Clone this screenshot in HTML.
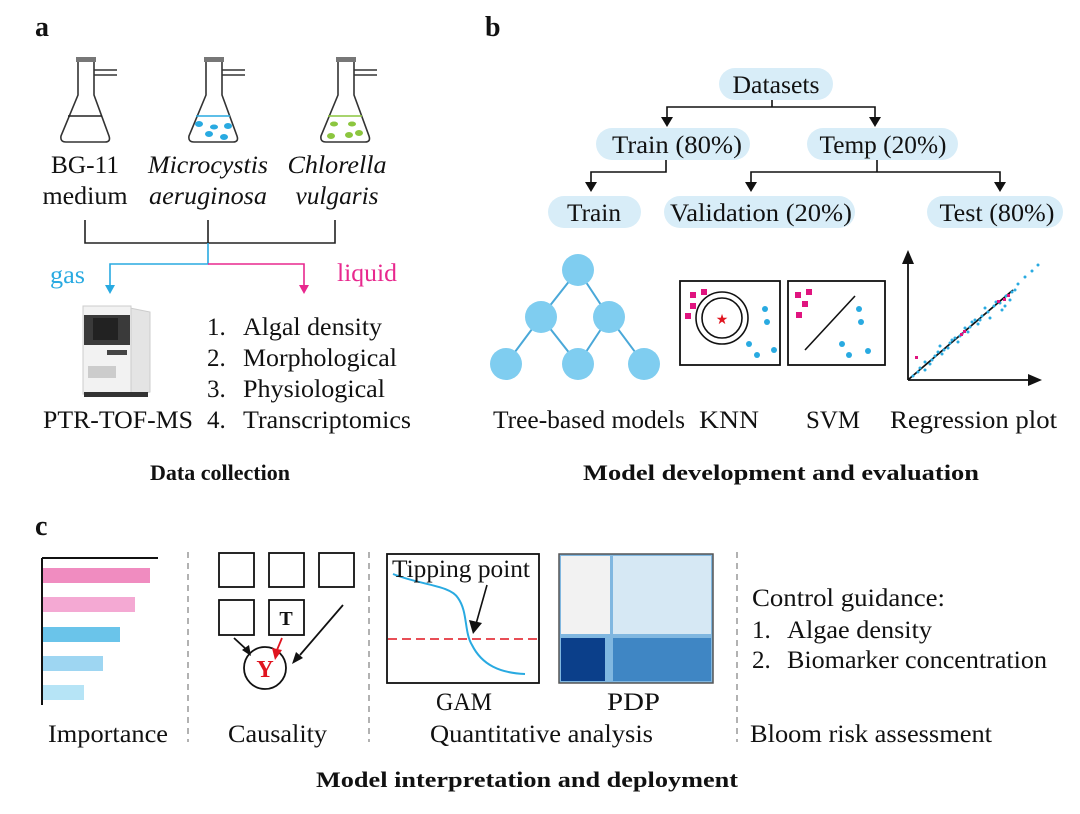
<!DOCTYPE html>
<html><head><meta charset="utf-8"><style>
html,body{margin:0;padding:0;background:#fff}
svg{display:block}
text{font-family:"Liberation Serif",serif;fill:#111}
</style></head><body>
<svg width="1080" height="814" viewBox="0 0 1080 814" xmlns="http://www.w3.org/2000/svg">
<g font-size="25">
<!-- panel a -->
<text x="35" y="36" font-size="28" font-weight="bold">a</text>
<g fill="none" stroke="#333" stroke-width="1.6">
 <path d="M78,62 V95 L61,136 Q60,142 66,142 H105 Q111,142 109,136 L94,95 V62"/>
 <path d="M94,70 H117 M94,75 H117"/>
 <path d="M206,62 V95 L189,136 Q188,142 194,142 H233 Q239,142 237,136 L222,95 V62"/>
 <path d="M222,70 H245 M222,75 H245"/>
 <path d="M338,62 V95 L321,136 Q320,142 326,142 H365 Q371,142 369,136 L354,95 V62"/>
 <path d="M354,70 H377 M354,75 H377"/>
</g>
<rect x="76" y="57" width="20" height="5" fill="#777"/><rect x="204" y="57" width="20" height="5" fill="#777"/><rect x="336" y="57" width="20" height="5" fill="#777"/>
<line x1="68" y1="116" x2="102" y2="116" stroke="#222" stroke-width="1.6"/>
<line x1="196" y1="116" x2="230" y2="116" stroke="#29aae1" stroke-width="1.6"/>
<line x1="328" y1="116" x2="362" y2="116" stroke="#8cc63f" stroke-width="1.6"/>
<g fill="#29aae1"><ellipse cx="199" cy="124" rx="4" ry="3"/><ellipse cx="214" cy="127" rx="4" ry="2.5"/><ellipse cx="228" cy="126" rx="4" ry="3"/><ellipse cx="209" cy="134" rx="4" ry="3"/><ellipse cx="224" cy="137" rx="4" ry="3"/></g>
<g fill="#8cc63f"><ellipse cx="334" cy="124" rx="4" ry="2.5"/><ellipse cx="352" cy="124" rx="4" ry="2.5"/><ellipse cx="331" cy="136" rx="4" ry="3"/><ellipse cx="349" cy="135" rx="4" ry="3"/><ellipse cx="359" cy="133" rx="4" ry="3"/></g>
<g text-anchor="middle">
<text x="85" y="173" textLength="68" lengthAdjust="spacingAndGlyphs">BG-11</text>
<text x="85" y="204" textLength="85" lengthAdjust="spacingAndGlyphs">medium</text>
<text x="208" y="173" font-style="italic" textLength="120" lengthAdjust="spacingAndGlyphs">Microcystis</text>
<text x="208" y="204" font-style="italic" textLength="118" lengthAdjust="spacingAndGlyphs">aeruginosa</text>
<text x="337" y="173" font-style="italic" textLength="99" lengthAdjust="spacingAndGlyphs">Chlorella</text>
<text x="337" y="204" font-style="italic" textLength="83" lengthAdjust="spacingAndGlyphs">vulgaris</text>
</g>
<path d="M85,220 V243 H335 V220 M208,220 V243" fill="none" stroke="#222" stroke-width="1.6"/>
<path d="M208,243 V264 H110 V287" fill="none" stroke="#29aae1" stroke-width="1.6"/>
<path d="M105,285 L110,294 L115,285 Z" fill="#29aae1"/>
<path d="M208,264 H304 V287" fill="none" stroke="#e8288e" stroke-width="1.6"/>
<path d="M299,285 L304,294 L309,285 Z" fill="#e8288e"/>
<text x="50" y="283" style="fill:#29aae1" textLength="35" lengthAdjust="spacingAndGlyphs">gas</text>
<text x="337" y="281" style="fill:#e8288e" textLength="60" lengthAdjust="spacingAndGlyphs">liquid</text>
<!-- instrument -->
<path d="M130,308 L150,312 V392 L130,396 Z" fill="#e4e4e4" stroke="#ccc"/>
<rect x="83" y="306" width="48" height="88" fill="#f2f2f2" stroke="#ccc"/>
<rect x="84" y="315" width="46" height="30" fill="#3a3a3a"/>
<rect x="93" y="318" width="25" height="22" fill="#222"/>
<rect x="107" y="350" width="20" height="5" fill="#444"/>
<rect x="88" y="366" width="28" height="12" fill="#ccc"/>
<rect x="84" y="392" width="64" height="5" fill="#333"/>
<text x="43" y="428" textLength="150" lengthAdjust="spacingAndGlyphs">PTR-TOF-MS</text>
<text x="207" y="335">1.</text><text x="243" y="335" textLength="139" lengthAdjust="spacingAndGlyphs">Algal density</text>
<text x="207" y="366">2.</text><text x="243" y="366" textLength="154" lengthAdjust="spacingAndGlyphs">Morphological</text>
<text x="207" y="397">3.</text><text x="243" y="397" textLength="142" lengthAdjust="spacingAndGlyphs">Physiological</text>
<text x="207" y="428">4.</text><text x="243" y="428" textLength="168" lengthAdjust="spacingAndGlyphs">Transcriptomics</text>
<text x="220" y="480" text-anchor="middle" font-size="22" font-weight="bold" textLength="140" lengthAdjust="spacingAndGlyphs">Data collection</text>

<!-- panel b -->
<text x="485" y="36" font-size="28" font-weight="bold">b</text>
<g fill="#d8edf8">
<rect x="719" y="68" width="114" height="32" rx="16"/>
<rect x="596" y="128" width="154" height="32" rx="16"/>
<rect x="807" y="128" width="151" height="32" rx="16"/>
<rect x="548" y="196" width="93" height="32" rx="16"/>
<rect x="664" y="196" width="191" height="32" rx="16"/>
<rect x="927" y="196" width="136" height="32" rx="16"/>
</g>
<g text-anchor="middle">
<text x="776" y="93" textLength="87" lengthAdjust="spacingAndGlyphs">Datasets</text>
<text x="677" y="153" textLength="130" lengthAdjust="spacingAndGlyphs">Train (80%)</text>
<text x="883" y="153" textLength="127" lengthAdjust="spacingAndGlyphs">Temp (20%)</text>
<text x="594" y="221" textLength="54" lengthAdjust="spacingAndGlyphs">Train</text>
<text x="761" y="221" textLength="182" lengthAdjust="spacingAndGlyphs">Validation (20%)</text>
<text x="997" y="221" textLength="115" lengthAdjust="spacingAndGlyphs">Test (80%)</text>
</g>
<g fill="none" stroke="#111" stroke-width="1.6">
<path d="M772,100 V107 M667,119 V107 H875 V119"/>
<path d="M666,160 V172 H591 V184"/>
<path d="M877,160 V172 M751,184 V172 H1000 V184"/>
</g>
<g fill="#111">
<path d="M661,117 L667,127 L673,117 Z"/><path d="M869,117 L875,127 L881,117 Z"/>
<path d="M585,182 L591,192 L597,182 Z"/><path d="M745,182 L751,192 L757,182 Z"/><path d="M994,182 L1000,192 L1006,182 Z"/>
</g>
<!-- tree -->
<g stroke="#4aa8d8" stroke-width="2" fill="none"><path d="M578,270 L541,317 L506,364 M578,270 L609,317 L644,364 M541,317 L578,364 L609,317"/></g>
<g fill="#7fcdf0"><circle cx="578" cy="270" r="16"/><circle cx="541" cy="317" r="16"/><circle cx="609" cy="317" r="16"/><circle cx="506" cy="364" r="16"/><circle cx="578" cy="364" r="16"/><circle cx="644" cy="364" r="16"/></g>
<!-- KNN -->
<rect x="680" y="281" width="100" height="84" fill="none" stroke="#111" stroke-width="1.8"/>
<g fill="#e0147f"><rect x="690" y="292" width="6" height="6"/><rect x="701" y="289" width="6" height="6"/><rect x="690" y="303" width="6" height="6"/><rect x="685" y="313" width="6" height="6"/></g>
<circle cx="722" cy="318" r="26" fill="none" stroke="#111" stroke-width="1.6"/>
<circle cx="722" cy="318" r="20" fill="none" stroke="#111" stroke-width="1.6"/>
<text x="722" y="324" text-anchor="middle" font-size="14" style="fill:#e0141f">★</text>
<g fill="#29aae1"><circle cx="765" cy="309" r="3"/><circle cx="767" cy="322" r="3"/><circle cx="749" cy="344" r="3"/><circle cx="774" cy="350" r="3"/><circle cx="757" cy="355" r="3"/></g>
<!-- SVM -->
<rect x="788" y="281" width="97" height="84" fill="none" stroke="#111" stroke-width="1.8"/>
<g fill="#e0147f"><rect x="795" y="292" width="6" height="6"/><rect x="806" y="289" width="6" height="6"/><rect x="802" y="301" width="6" height="6"/><rect x="796" y="312" width="6" height="6"/></g>
<line x1="805" y1="350" x2="855" y2="296" stroke="#111" stroke-width="1.6"/>
<g fill="#29aae1"><circle cx="859" cy="309" r="3"/><circle cx="861" cy="322" r="3"/><circle cx="842" cy="344" r="3"/><circle cx="868" cy="351" r="3"/><circle cx="849" cy="355" r="3"/></g>
<!-- Regression -->
<g stroke="#111" stroke-width="1.8" fill="none"><path d="M908,380 V262 M908,380 H1030 M909,379 L1013,290"/></g>
<path d="M902,264 L908,250 L914,264 Z" fill="#111"/><path d="M1028,374 L1042,380 L1028,386 Z" fill="#111"/>
<g fill="#29aae1">
<circle cx="913" cy="376" r="1.5"/><circle cx="920" cy="368" r="1.5"/><circle cx="925" cy="362" r="1.5"/><circle cx="932" cy="360" r="1.5"/><circle cx="938" cy="352" r="1.5"/><circle cx="944" cy="350" r="1.5"/><circle cx="950" cy="343" r="1.5"/><circle cx="955" cy="338" r="1.5"/><circle cx="960" cy="336" r="1.5"/><circle cx="965" cy="328" r="1.5"/><circle cx="970" cy="327" r="1.5"/><circle cx="975" cy="320" r="1.5"/><circle cx="982" cy="316" r="1.5"/><circle cx="988" cy="312" r="1.5"/><circle cx="994" cy="306" r="1.5"/><circle cx="1000" cy="303" r="1.5"/><circle cx="1006" cy="296" r="1.5"/><circle cx="1012" cy="292" r="1.5"/><circle cx="1018" cy="284" r="1.5"/><circle cx="1025" cy="277" r="1.5"/><circle cx="1032" cy="271" r="1.5"/><circle cx="1038" cy="265" r="1.5"/>
<circle cx="925" cy="370" r="1.5"/><circle cx="935" cy="356" r="1.5"/><circle cx="948" cy="348" r="1.5"/><circle cx="958" cy="342" r="1.5"/><circle cx="968" cy="332" r="1.5"/><circle cx="978" cy="324" r="1.5"/><circle cx="990" cy="318" r="1.5"/><circle cx="1002" cy="310" r="1.5"/><circle cx="1010" cy="300" r="1.5"/><circle cx="940" cy="346" r="1.5"/><circle cx="962" cy="334" r="1.5"/><circle cx="985" cy="308" r="1.5"/>
<circle cx="918" cy="372" r="1.5"/><circle cx="930" cy="364" r="1.5"/><circle cx="942" cy="354" r="1.5"/><circle cx="952" cy="340" r="1.5"/><circle cx="972" cy="322" r="1.5"/><circle cx="980" cy="320" r="1.5"/><circle cx="996" cy="302" r="1.5"/><circle cx="1015" cy="290" r="1.5"/><circle cx="1005" cy="306" r="1.5"/>
</g>
<g fill="#e0147f"><rect x="915" y="356" width="3" height="3"/><rect x="960" y="333" width="3" height="3"/><rect x="963" y="330" width="3" height="3"/><rect x="997" y="300" width="3" height="3"/><rect x="1003" y="298" width="3" height="3"/><rect x="1007" y="294" width="3" height="3"/></g>
<text x="493" y="428" textLength="192" lengthAdjust="spacingAndGlyphs">Tree-based models</text>
<text x="699" y="428" textLength="60" lengthAdjust="spacingAndGlyphs">KNN</text>
<text x="806" y="428" textLength="54" lengthAdjust="spacingAndGlyphs">SVM</text>
<text x="890" y="428" textLength="167" lengthAdjust="spacingAndGlyphs">Regression plot</text>
<text x="781" y="480" text-anchor="middle" font-size="22" font-weight="bold" textLength="396" lengthAdjust="spacingAndGlyphs">Model development and evaluation</text>

<!-- panel c -->
<text x="35" y="535" font-size="28" font-weight="bold">c</text>
<path d="M42,558 V705 M42,558 H158" stroke="#111" stroke-width="2" fill="none"/>
<rect x="43" y="568" width="107" height="15" fill="#f08cc0"/>
<rect x="43" y="597" width="92" height="15" fill="#f4a9d3"/>
<rect x="43" y="627" width="77" height="15" fill="#6ac4ea"/>
<rect x="43" y="656" width="60" height="15" fill="#9ed6f2"/>
<rect x="43" y="685" width="41" height="15" fill="#b6e4f6"/>
<g stroke="#666" stroke-width="1" stroke-dasharray="6,5"><line x1="188" y1="552" x2="188" y2="742"/><line x1="369" y1="552" x2="369" y2="742"/><line x1="737" y1="552" x2="737" y2="742"/></g>
<g fill="none" stroke="#111" stroke-width="1.8">
<rect x="219" y="553" width="35" height="34"/><rect x="269" y="553" width="35" height="34"/><rect x="319" y="553" width="35" height="34"/>
<rect x="219" y="600" width="35" height="35"/><rect x="269" y="600" width="35" height="35"/>
<circle cx="265" cy="668" r="21"/>
<line x1="234" y1="638" x2="247" y2="650"/><line x1="343" y1="605" x2="300" y2="655"/>
</g>
<path d="M242,650 L251,656 L249,645 Z" fill="#111"/><path d="M296,652 L292,664 L303,658 Z" fill="#111"/>
<line x1="282" y1="638" x2="277" y2="650" stroke="#e0141f" stroke-width="1.8"/><path d="M272,648 L275,660 L282,650 Z" fill="#e0141f"/>
<text x="286" y="625" text-anchor="middle" font-size="20" font-weight="bold">T</text>
<text x="265" y="677" text-anchor="middle" font-size="24" font-weight="bold" style="fill:#e0141f">Y</text>
<!-- GAM -->
<rect x="387" y="554" width="152" height="129" fill="none" stroke="#111" stroke-width="1.8"/>
<line x1="388" y1="639" x2="538" y2="639" stroke="#e0141f" stroke-width="1.6" stroke-dasharray="9,5"/>
<path d="M393,574 C420,585 450,585 458,598 C468,612 464,632 472,645 C482,665 500,673 525,674" fill="none" stroke="#29aae1" stroke-width="2"/>
<line x1="487" y1="585" x2="476" y2="624" stroke="#111" stroke-width="1.6"/><path d="M469,620 L473,634 L482,623 Z" fill="#111"/>
<text x="392" y="577" textLength="138" lengthAdjust="spacingAndGlyphs">Tipping point</text>
<!-- PDP -->
<rect x="559" y="554" width="154" height="129" fill="#80b7e0" stroke="#555" stroke-width="1.5"/>
<rect x="561" y="556" width="49" height="78" fill="#f2f2f2"/>
<rect x="613" y="556" width="98" height="78" fill="#d6e8f4"/>
<rect x="561" y="638" width="44" height="43" fill="#0b3f8a"/>
<rect x="613" y="638" width="98" height="43" fill="#3f86c4"/>
<text x="436" y="710" textLength="56" lengthAdjust="spacingAndGlyphs">GAM</text>
<text x="607" y="710" textLength="53" lengthAdjust="spacingAndGlyphs">PDP</text>
<text x="48" y="742" textLength="120" lengthAdjust="spacingAndGlyphs">Importance</text>
<text x="228" y="742" textLength="99" lengthAdjust="spacingAndGlyphs">Causality</text>
<text x="430" y="742" textLength="223" lengthAdjust="spacingAndGlyphs">Quantitative analysis</text>
<text x="752" y="606" textLength="193" lengthAdjust="spacingAndGlyphs">Control guidance:</text>
<text x="752" y="638">1.</text><text x="787" y="638" textLength="145" lengthAdjust="spacingAndGlyphs">Algae density</text>
<text x="752" y="668">2.</text><text x="787" y="668" textLength="260" lengthAdjust="spacingAndGlyphs">Biomarker concentration</text>
<text x="750" y="742" textLength="242" lengthAdjust="spacingAndGlyphs">Bloom risk assessment</text>
<text x="527" y="787" text-anchor="middle" font-size="22" font-weight="bold" textLength="422" lengthAdjust="spacingAndGlyphs">Model interpretation and deployment</text>
</g>
</svg>
</body></html>
